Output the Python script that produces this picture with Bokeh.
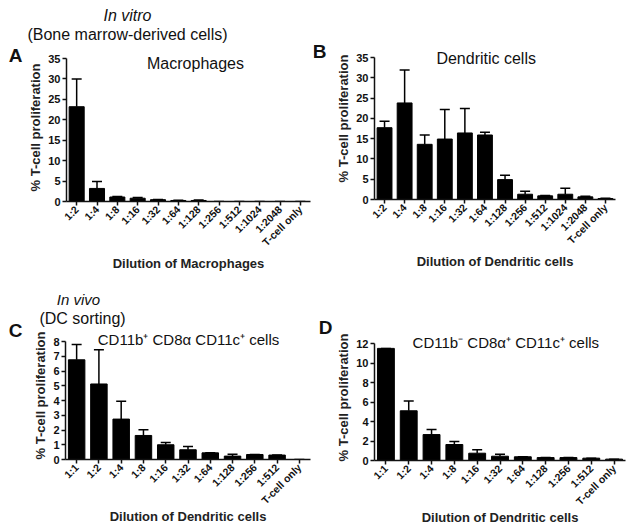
import math
from bokeh.plotting import figure
from bokeh.models import FactorRange, Range1d, FixedTicker, Whisker, TeeHead, ColumnDataSource, Label
from bokeh.layouts import column, row
from bokeh.embed import file_html
from bokeh.resources import INLINE

FONT = "Liberation Sans"
INK = "#111111"

# ---------------- data ----------------
a_categories = ["1:2", "1:4", "1:8", "1:16", "1:32", "1:64", "1:128", "1:256",
                "1:512", "1:1024", "1:2048", "T-cell only"]
a_values = [23.2, 3.2, 1.1, 0.8, 0.45, 0.25, 0.25, 0, 0, 0, 0, 0]
a_err_top = [30.0, 4.9, 1.2, 1.0, 0.5, 0.3, 0.35, 0, 0, 0, 0, 0]
a_yticks = [0, 5, 10, 15, 20, 25, 30, 35]

b_categories = ["1:2", "1:4", "1:8", "1:16", "1:32", "1:64", "1:128", "1:256",
                "1:512", "1:1024", "1:2048", "T-cell only"]
b_values = [17.7, 23.8, 13.6, 14.9, 16.4, 15.9, 4.9, 1.3, 0.9, 1.3, 0.65, 0.25]
b_err_top = [19.3, 31.9, 15.9, 22.2, 22.4, 16.6, 6.0, 2.05, 1.0, 2.8, 0.8, 0.3]
b_yticks = [0, 5, 10, 15, 20, 25, 30, 35]

c_categories = ["1:1", "1:2", "1:4", "1:8", "1:16", "1:32", "1:64", "1:128",
                "1:256", "1:512", "T-cell only"]
c_values = [6.76, 5.12, 2.74, 1.63, 1.0, 0.66, 0.45, 0.23, 0.34, 0.3, 0.0]
c_err_top = [7.8, 7.44, 3.95, 2.02, 1.16, 0.88, 0.45, 0.36, 0.34, 0.3, 0.0]
c_yticks = [0, 1, 2, 3, 4, 5, 6, 7, 8]

d_categories = ["1:1", "1:2", "1:4", "1:8", "1:16", "1:32", "1:64", "1:128",
                "1:256", "1:512", "T-cell only"]
d_values = [11.5, 5.1, 2.66, 1.64, 0.75, 0.44, 0.38, 0.3, 0.3, 0.24, 0.14]
d_err_top = [11.5, 6.1, 3.17, 1.94, 1.09, 0.65, 0.38, 0.3, 0.3, 0.24, 0.14]
d_yticks = [0, 2, 4, 6, 8, 10, 12]

y_label = "% T-cell proliferation"


def add_text(p, x, y, text, size, style="normal"):
    p.add_layout(Label(x=x, y=y, text=text, text_font=FONT,
                       text_font_size=size, text_font_style=style,
                       text_color=INK, text_align="center",
                       text_baseline="middle"))


def text_fig(x0, x1, y0, y1):
    # a plain canvas (page-pixel coordinates) that only carries text labels
    p = figure(width=x1 - x0, height=y1 - y0,
               x_range=Range1d(x0, x1), y_range=Range1d(y1, y0),
               x_axis_location=None, y_axis_location=None,
               min_border=0, frame_align=False,
               output_backend="svg", toolbar_location=None)
    p.outline_line_color = None
    for g in p.grid:
        g.visible = False
    return p


class Panel:
    def __init__(self, cats, vals, errs, yticks, xlabel, box, frame, y_top_px, xl_standoff):
        fx0, fx1, fy0, fy1 = box            # figure box on the page
        fl, fr, ft, fb = frame              # plot frame on the page (fb = value 0)
        tmax = max(yticks)
        self.fl, self.fr, self.fb = fl, fr, fb
        self.n = len(cats)
        self.ppu = (fb - y_top_px) / tmax
        y_end = (fb - ft) / self.ppu
        src = ColumnDataSource(dict(cat=cats, val=vals, err=errs))
        p = figure(width=fx1 - fx0, height=fy1 - fy0,
                   x_range=FactorRange(factors=cats),
                   y_range=Range1d(0, y_end),
                   output_backend="svg", toolbar_location=None,
                   frame_align=False,
                   min_border_left=fl - fx0, min_border_right=fx1 - fr,
                   min_border_top=ft - fy0, min_border_bottom=fy1 - fb)
        p.vbar(x="cat", top="val", width=0.74, source=src,
               fill_color="black", line_color="black")
        w = Whisker(source=src, base="cat", upper="err", lower="val",
                    line_width=1.5, line_color="black",
                    upper_head=TeeHead(size=10, line_width=1.5, line_color="black"),
                    lower_head=None)
        p.add_layout(w)
        p.xgrid.visible = False
        p.ygrid.visible = False
        p.outline_line_color = None
        for ax in (p.xaxis[0], p.yaxis[0]):
            ax.axis_line_width = 1.5
            ax.axis_line_color = INK
            ax.major_tick_line_width = 1.5
            ax.major_tick_line_color = INK
            ax.major_tick_out = 4
            ax.major_tick_in = 0
            ax.minor_tick_out = 0
            ax.minor_tick_in = 0
            ax.major_label_text_font = FONT
            ax.major_label_text_font_style = "bold"
            ax.major_label_text_color = INK
            ax.axis_label_text_font = FONT
            ax.axis_label_text_font_style = "bold"
            ax.axis_label_text_color = "#222222"
            ax.major_label_standoff = 2
        p.yaxis.ticker = FixedTicker(ticks=yticks)
        p.yaxis.bounds = (0, tmax)
        p.yaxis.major_label_text_font_size = "11px"
        p.yaxis.axis_label = y_label
        p.yaxis.axis_label_text_font_size = "13px"
        p.yaxis.axis_label_standoff = 2
        p.xaxis.major_label_orientation = math.pi / 4
        p.xaxis.major_label_text_font_size = "10.5px"
        p.xaxis.axis_label = xlabel
        p.xaxis.axis_label_text_font_size = "13px"
        p.xaxis.axis_label_standoff = xl_standoff
        self.p = p

    def text(self, px, py, text, size, style="normal"):
        # place a text label at a page-pixel position inside the frame
        x = (px - self.fl) / (self.fr - self.fl) * self.n
        y = (self.fb - py) / self.ppu
        add_text(self.p, x, y, text, size, style)


# ---------------- row 1 : in vitro ----------------
letterA = text_fig(0, 24, 0, 283)
add_text(letterA, 15, 55, "A", "19px", "bold")

header1 = text_fig(24, 313, 0, 53)
add_text(header1, 127, 15, "In vitro", "16px", "italic")
add_text(header1, 127, 34, "(Bone marrow-derived cells)", "16px")

pA = Panel(a_categories, a_values, a_err_top, a_yticks, "Dilution of Macrophages",
           (24, 313, 53, 283), (66, 310, 53, 201), 58, 1)
pA.text(195, 63, "Macrophages", "16px")

letterB = text_fig(313, 333, 0, 283)
add_text(letterB, 319, 51, "B", "19px", "bold")

pB = Panel(b_categories, b_values, b_err_top, b_yticks, "Dilution of Dendritic cells",
           (333, 628, 0, 283), (369, 615, 37, 199), 57, 1)
pB.text(483, 58, "Dendritic cells", "16px")

# ---------------- row 2 : in vivo ----------------
letterC = text_fig(0, 24, 283, 528)
add_text(letterC, 15, 330, "C", "19px", "bold")

header2 = text_fig(24, 313, 283, 331)
add_text(header2, 78, 299, "In vivo", "15px", "italic")
add_text(header2, 82, 318, "(DC sorting)", "16px")

pC = Panel(c_categories, c_values, c_err_top, c_yticks, "Dilution of Dendritic cells",
           (24, 313, 331, 528), (65, 310, 331, 459), 341, -4)
pC.text(188, 339, "CD11b\u207a CD8\u03b1 CD11c\u207a cells", "15px")

letterD = text_fig(313, 333, 283, 528)
add_text(letterD, 325, 327, "D", "19px", "bold")

pD = Panel(d_categories, d_values, d_err_top, d_yticks, "Dilution of Dendritic cells",
           (333, 628, 283, 528), (367, 625, 334, 460), 343, -4)
pD.text(502, 342, "CD11b\u207b CD8\u03b1\u207a CD11c\u207a cells", "15px")

layout = column(
    row(letterA, column(header1, pA.p), letterB, pB.p),
    row(letterC, column(header2, pC.p), letterD, pD.p),
)

open("out.html", "w").write(file_html(layout, INLINE))
